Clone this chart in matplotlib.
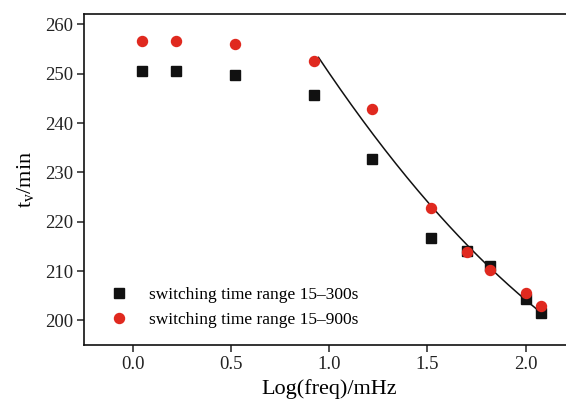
import numpy as np
import matplotlib
matplotlib.use("Agg")
import matplotlib.pyplot as plt

plt.rcParams['font.family'] = ['Liberation Serif', 'DejaVu Serif']
plt.rcParams['mathtext.fontset'] = 'custom'
plt.rcParams['mathtext.rm'] = 'Liberation Serif'
plt.rcParams['mathtext.it'] = 'Liberation Serif:italic'

# Data
log_freq = [0.045, 0.22, 0.52, 0.92, 1.22, 1.52, 1.70, 1.82, 2.00, 2.08]
t_300 = [250.6, 250.6, 249.8, 245.6, 232.8, 216.6, 214.0, 211.0, 204.4, 201.4]
t_900 = [256.7, 256.6, 256.0, 252.5, 242.9, 222.8, 213.9, 210.3, 205.6, 202.9]
label_300 = "switching time range 15–300s"
label_900 = "switching time range 15–900s"
# quadratic fit line (coefficients, range)
fit_coef = [12.21, -82.55, 320.41]
fit_range = [0.945, 2.065]

x_ticks = [0.0, 0.5, 1.0, 1.5, 2.0]
y_ticks = [200, 210, 220, 230, 240, 250, 260]

fig = plt.figure(figsize=(5.66, 3.99), dpi=100)
ax = fig.add_axes([84/566, 1-345/399, (574.6-84)/566, (345-14)/399])

ax.plot(log_freq, t_300, linestyle='none', marker='s', markersize=6.5,
        color='#111111', label=label_300, zorder=3)
ax.plot(log_freq, t_900, linestyle='none', marker='o', markersize=7.2,
        color='#e0291f', label=label_900, zorder=3)

xf = np.linspace(fit_range[0], fit_range[1], 200)
ax.plot(xf, np.polyval(fit_coef, xf), color='#111111', linewidth=1.1, zorder=2)

ax.set_xlim(-0.25, 2.25)
ax.set_ylim(195, 262.1)
ax.set_xticks(x_ticks)
ax.set_yticks(y_ticks)
ax.set_xticklabels([f"{v:.1f}" for v in x_ticks])
ax.tick_params(direction='out', length=5, width=1.1, labelsize=13.5, pad=3,
               colors='#222222')
for s in ax.spines.values():
    s.set_linewidth(1.2)
    s.set_color('#111111')

ax.set_xlabel("Log(freq)/mHz", fontsize=16, labelpad=4)
ax.set_ylabel(r"t$_\mathrm{v}$/min", fontsize=16, labelpad=6)

leg = ax.legend(loc='lower left', bbox_to_anchor=(0.035, 0.03), frameon=False,
                fontsize=12.5, handlelength=1.2, handletextpad=1.15,
                labelspacing=0.5, borderaxespad=0)

fig.savefig("out.png", dpi=100)
